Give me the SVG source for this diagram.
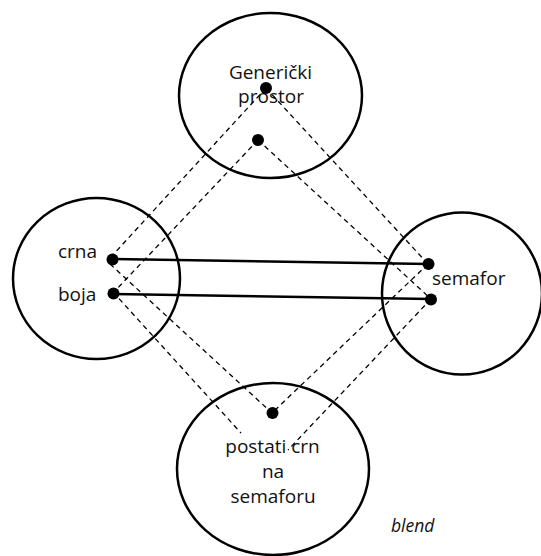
<svg xmlns="http://www.w3.org/2000/svg" width="541" height="556" viewBox="0 0 541 556">
<style>
.circle{fill:none;stroke:#000;stroke-width:2.5}
.dash{fill:none;stroke:#000;stroke-width:1.3;stroke-dasharray:5 4}
.solid{fill:none;stroke:#000;stroke-width:2.5}
.dot{fill:#000}
text{font-family:"Open Sans","DejaVu Sans",sans-serif;font-size:19px;fill:#111}
.c{text-anchor:middle}
.it{font-style:italic;font-size:17.5px}
</style>
<rect width="541" height="556" fill="#fff"/>
<g id="connectors">
<line class="dash" x1="266" y1="88" x2="111" y2="257"/>
<line class="dash" x1="266" y1="88" x2="428" y2="264"/>
<line class="dash" x1="258" y1="140" x2="113" y2="293"/>
<line class="dash" x1="258" y1="140" x2="431" y2="299"/>
<line class="dash" x1="110" y1="264" x2="272" y2="413"/>
<line class="dash" x1="428" y1="264" x2="272" y2="413"/>
<line class="dash" x1="113" y1="292" x2="241" y2="433"/>
<line class="dash" x1="431" y1="299" x2="288" y2="450"/>
<line class="solid" x1="113" y1="259" x2="428" y2="264"/>
<line class="solid" x1="113" y1="294" x2="431" y2="299"/>
</g>
<g id="generic">
<ellipse class="circle" cx="270.5" cy="95.5" rx="91.5" ry="82.5"/>
<text class="c" x="270.5" y="79">Generički</text>
<text class="c" x="271" y="103">prostor</text>
<circle class="dot" cx="266" cy="88" r="6"/>
<circle class="dot" cx="258" cy="140" r="6"/>
</g>
<g id="input1">
<ellipse class="circle" cx="96.5" cy="278.5" rx="83.5" ry="80.5"/>
<text x="58" y="258">crna</text>
<text x="58" y="301">boja</text>
<circle class="dot" cx="112.5" cy="259.5" r="6"/>
<circle class="dot" cx="113.5" cy="293.5" r="6"/>
</g>
<g id="input2">
<ellipse class="circle" cx="462" cy="293.5" rx="80" ry="81"/>
<text x="432" y="285">semafor</text>
<circle class="dot" cx="428.5" cy="264" r="6"/>
<circle class="dot" cx="431" cy="299.5" r="6"/>
</g>
<g id="blend">
<ellipse class="circle" cx="273" cy="469" rx="96" ry="86"/>
<text class="c" x="272.5" y="453">postati crn</text>
<text class="c" x="273" y="478">na</text>
<text class="c" x="273" y="503">semaforu</text>
<circle class="dot" cx="272.5" cy="413" r="6"/>
</g>
<text class="it" x="391" y="532">blend</text>
</svg>
